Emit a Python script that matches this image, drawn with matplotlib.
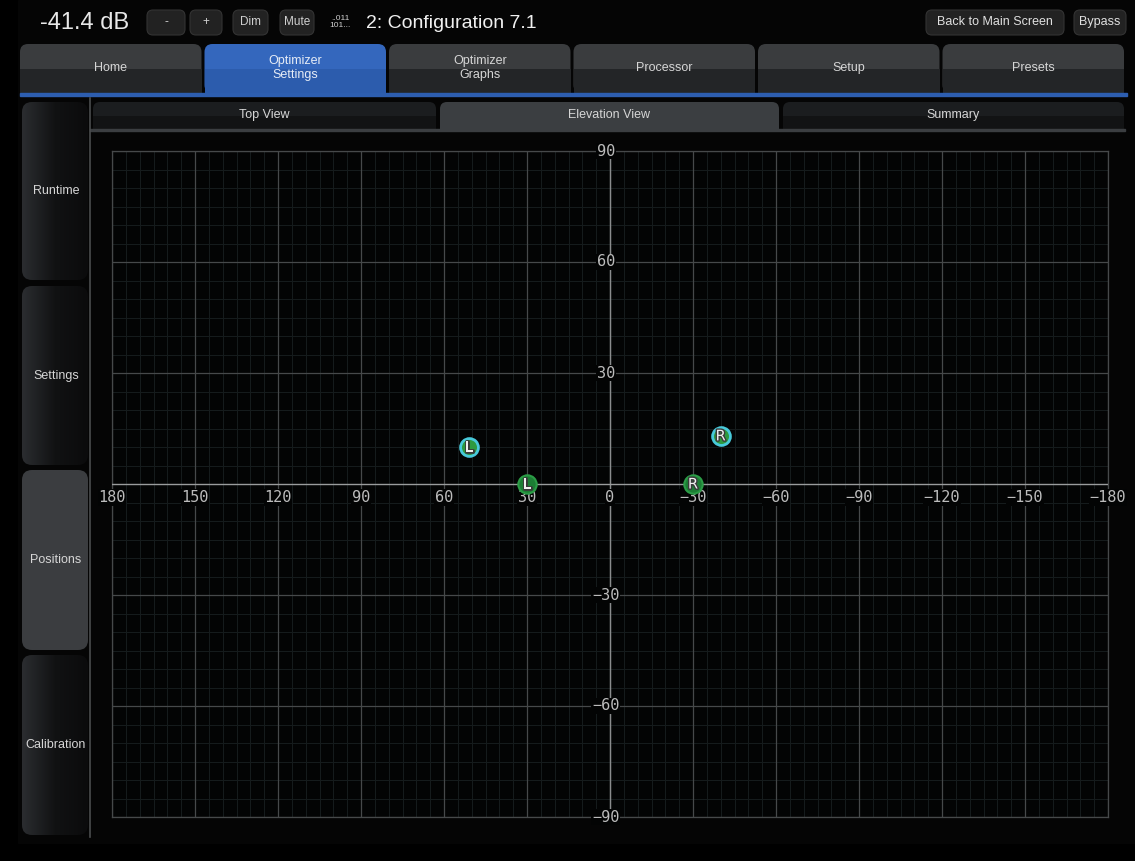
import numpy as np
import matplotlib.pyplot as plt
import matplotlib.patheffects as pe
from matplotlib.patches import FancyBboxPatch, Rectangle
from matplotlib.colors import LinearSegmentedColormap

# speaker positions (azimuth, elevation in degrees)
front_names = ['L', 'R']
front_az = [30, -30]
front_el = [0, 0]
height_names = ['L', 'R']
height_az = [51, -40]
height_el = [10, 13]

x_ticks = [180, 150, 120, 90, 60, 30, 0, -30, -60, -90, -120, -150, -180]
y_ticks = [90, 60, 30, -30, -60, -90]

main_tabs = ['Home', 'Optimizer\nSettings', 'Optimizer\nGraphs', 'Processor', 'Setup', 'Presets']
sub_tabs = ['Top View', 'Elevation View', 'Summary']
side_tabs = ['Runtime', 'Settings', 'Positions', 'Calibration']

UI_FONT = 'Liberation Sans'
W, H = 1135, 861

fig = plt.figure(figsize=(W / 100, H / 100), dpi=100)
fig.patch.set_facecolor('#000000')

# ---- background UI layer in pixel coordinates
ui = fig.add_axes([0, 0, 1, 1])
ui.set_xlim(0, W)
ui.set_ylim(H, 0)
ui.axis('off')
ui.add_patch(Rectangle((18, 0), W - 18, H - 18, color='#050505', zorder=0))


def grad_patch(x0, y0, w, h, colors, r, vertical=True):
    patch = FancyBboxPatch((x0 + r, y0 + r), w - 2 * r, h - 2 * r,
                           boxstyle=f'round,pad={r}', linewidth=0, facecolor='none')
    ui.add_patch(patch)
    cmap = LinearSegmentedColormap.from_list('g', colors)
    g = np.linspace(0, 1, 128)
    img = g.reshape(-1, 1) if vertical else g.reshape(1, -1)
    im = ui.imshow(img, extent=[x0, x0 + w, y0 + h, y0], cmap=cmap, aspect='auto', zorder=1)
    im.set_clip_path(patch)


def tab(x0, x1, y0, y1, top, bottom, r=8):
    # rounded top, square bottom
    ui.add_patch(FancyBboxPatch((x0 + r, y0 + r), x1 - x0 - 2 * r, y1 - y0 - 2 * r,
                                boxstyle=f'round,pad={r}', linewidth=0, facecolor=top, zorder=1))
    mid = (y0 + y1) / 2
    ui.add_patch(Rectangle((x0, mid), x1 - x0, y1 - mid, linewidth=0, facecolor=bottom, zorder=1))


# top bar
ui.text(40, 23, '-41.4 dB', color='#e8e8e8', fontsize=17, family=UI_FONT, va='center')
buttons = [('-', 147, 185), ('+', 190, 222), ('Dim', 233, 268), ('Mute', 280, 314)]
for lbl, bx0, bx1 in buttons:
    ui.add_patch(FancyBboxPatch((bx0 + 6, 16), bx1 - bx0 - 12, 13, boxstyle='round,pad=6',
                                facecolor='#222222', edgecolor='#333333', linewidth=0.8, zorder=1))
    ui.text((bx0 + bx1) / 2, 22, lbl, color='#d0d0d0', fontsize=8.5, family=UI_FONT,
            ha='center', va='center', zorder=2)
ui.text(340, 22, '..011\n101...', color='#d0d0d0', fontsize=6, family=UI_FONT,
        ha='center', va='center', linespacing=1.0)
ui.text(366, 23, '2: Configuration 7.1', color='#f0f0f0', fontsize=14, family=UI_FONT, va='center')

for lbl, bx0, bx1 in [('Back to Main Screen', 926, 1064), ('Bypass', 1074, 1126)]:
    ui.add_patch(FancyBboxPatch((bx0 + 6, 16), bx1 - bx0 - 12, 13, boxstyle='round,pad=6',
                                facecolor='#222222', edgecolor='#333333', linewidth=0.8, zorder=1))
    ui.text((bx0 + bx1) / 2, 22, lbl, color='#e0e0e0', fontsize=9, family=UI_FONT,
            ha='center', va='center', zorder=2)

# main tabs
tab_w = (1127 - 20) / 6
for i, lbl in enumerate(main_tabs):
    x0 = 20 + i * tab_w
    x1 = x0 + tab_w - 3
    if i == 1:
        tab(x0, x1, 44, 93, '#3467bd', '#2c5cad')
        tc = '#e6ecf6'
    else:
        tab(x0, x1, 44, 93, '#3a3c3e', '#232527')
        tc = '#d6d6d6'
    ui.text((x0 + x1) / 2, 68, lbl, color=tc, fontsize=9, family=UI_FONT,
            ha='center', va='center', linespacing=1.25, zorder=2)
ui.add_patch(Rectangle((20, 93), 1107, 3, color='#2d5eb0', zorder=2))

# sub tabs
sub_x = [(93, 436), (440, 779), (783, 1124)]
for lbl, (x0, x1) in zip(sub_tabs, sub_x):
    if lbl == 'Elevation View':
        tab(x0, x1, 102, 129, '#3b3e41', '#3b3e41', r=7)
    else:
        tab(x0, x1, 102, 129, '#1b1d1f', '#121314', r=7)
    ui.text((x0 + x1) / 2, 115, lbl, color='#d6d6d6', fontsize=9, family=UI_FONT,
            ha='center', va='center', zorder=2)
ui.add_patch(Rectangle((90, 128.5), 1035, 2, color='#3b3e41', zorder=2))

# side tabs
side_y = [(102, 280), (286, 465), (470, 650), (655, 835)]
for lbl, (y0, y1) in zip(side_tabs, side_y):
    if lbl == 'Positions':
        ui.add_patch(FancyBboxPatch((22 + 10, y0 + 10), 66 - 20, y1 - y0 - 20,
                                    boxstyle='round,pad=10', linewidth=0,
                                    facecolor='#3b3d40', zorder=1))
    else:
        grad_patch(22, y0, 66, y1 - y0, ['#2b2d30', '#111213', '#0b0b0c'], 10, vertical=False)
    ui.text(56, (y0 + y1) / 2, lbl, color='#d6d6d6', fontsize=9, family=UI_FONT,
            ha='center', va='center', zorder=2)
ui.plot([89.5, 89.5], [98, 837], color='#4a4c4e', lw=1.2, zorder=2)
ui.set_xlim(0, W)
ui.set_ylim(H, 0)

# ---- elevation chart
ax = fig.add_axes([112 / W, (H - 817) / H, (1108 - 112) / W, (817 - 151) / H])
ax.set_facecolor('#030404')
ax.set_xlim(180, -180)
ax.set_ylim(-90, 90)

for v in range(-180, 181, 5):
    ax.axvline(v, color='#161c1d', lw=0.7, zorder=1)
for v in range(-90, 91, 5):
    ax.axhline(v, color='#161c1d', lw=0.7, zorder=1)
for v in x_ticks:
    ax.axvline(v, color='#46494a', lw=0.9, zorder=2)
for v in y_ticks:
    ax.axhline(v, color='#46494a', lw=0.9, zorder=2)
ax.axvline(0, color='#8a8c8d', lw=1.0, zorder=3)
ax.axhline(0, color='#9a9c9d', lw=1.0, zorder=3)
for s in ax.spines.values():
    s.set_color('#46494a')
    s.set_linewidth(0.9)
ax.set_xticks([])
ax.set_yticks([])

lab_kw = dict(color='#bcbcbc', fontsize=11, family='DejaVu Sans Mono', zorder=4, clip_on=False,
              bbox=dict(boxstyle='square,pad=0.05', facecolor='#030404', edgecolor='none'))
for v in x_ticks:
    ax.text(v, -3.6, str(v).replace('-', '\u2212'), ha='center', va='center', **lab_kw)
for v in y_ticks:
    ax.text(1.5, v, str(v).replace('-', '\u2212'), ha='center', va='center', **lab_kw)

ax.scatter(front_az, front_el, s=175, facecolor='#1c7d34', edgecolor='#2b9c46',
           linewidth=1.5, zorder=6, clip_on=False)
ax.scatter(height_az, height_el, s=165, facecolor='#2e9a40', edgecolor='#48c9da',
           linewidth=2.0, zorder=6, clip_on=False)
for names, xs, ys in [(front_names, front_az, front_el), (height_names, height_az, height_el)]:
    for n, xv, yv in zip(names, xs, ys):
        ax.text(xv, yv, n, color='#f0f0f0', fontsize=10.5, family='DejaVu Sans',
                ha='center', va='center', zorder=7,
                path_effects=[pe.withStroke(linewidth=2, foreground='#3a3a3a')])

fig.savefig('out.png', dpi=100, facecolor=fig.get_facecolor())
